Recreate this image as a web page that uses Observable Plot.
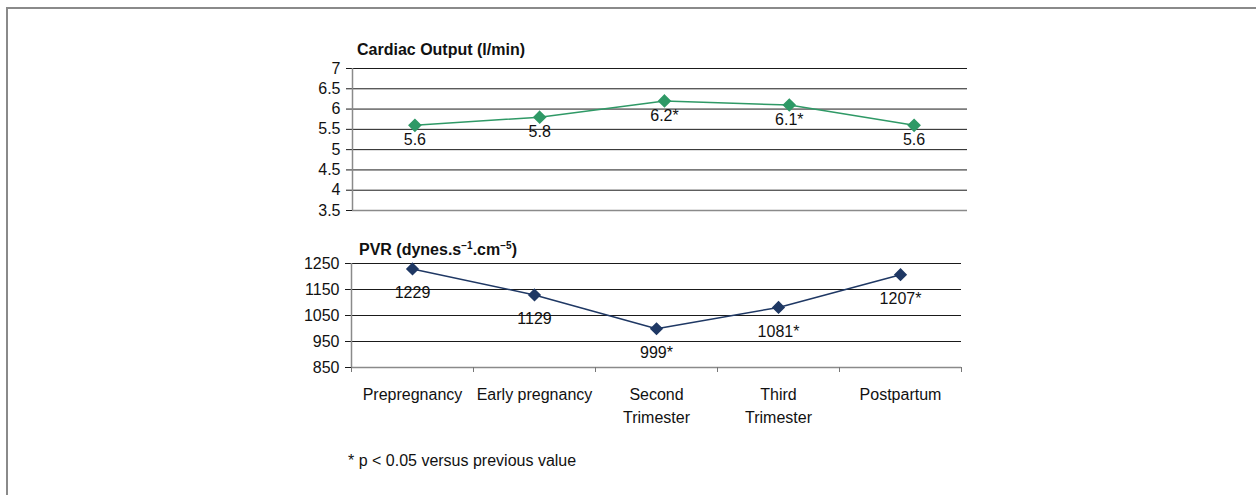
<!DOCTYPE html>
<html>
<head>
<meta charset="utf-8">
<script src="https://cdn.jsdelivr.net/npm/d3@7"></script>
<script src="https://cdn.jsdelivr.net/npm/@observablehq/plot@0.6"></script>
<style>
  body { margin: 0; background: #fff; }
  #wrap { position: relative; width: 1256px; height: 495px; overflow: hidden; font-family: "Liberation Sans", Arial, sans-serif; color: #111; }
  #frame { position: absolute; left: 6px; top: 7px; width: 1400px; height: 600px; border-top: 2px solid #8a8a8a; border-left: 2px solid #8a8a8a; }
  .title { position: absolute; font-weight: bold; font-size: 16px; white-space: nowrap; }
  .title sup { font-size: 10px; vertical-align: 6px; }
  .chart { position: absolute; left: 0; }
  #note { position: absolute; left: 348px; top: 452px; font-size: 16px; white-space: nowrap; }
</style>
</head>
<body>
<div id="wrap">
  <div id="frame"></div>
  <div class="title" style="left:357px; top:41px;">Cardiac Output (l/min)</div>
  <div class="chart" id="c1" style="top:58px;"></div>
  <div class="title" style="left:359px; top:240px;">PVR (dynes.s<sup>−1</sup>.cm<sup>−5</sup>)</div>
  <div class="chart" id="c2" style="top:253px;"></div>
  <div id="note">* p &lt; 0.05 versus previous value</div>
</div>
<script>
const categories = ["Prepregnancy", "Early pregnancy", "Second\nTrimester", "Third\nTrimester", "Postpartum"];
const cardiacOutput = [5.6, 5.8, 6.2, 6.1, 5.6];
const cardiacLabels = ["5.6", "5.8", "6.2*", "6.1*", "5.6"];
const pvr = [1229, 1129, 999, 1081, 1207];
const pvrLabels = ["1229", "1129", "999*", "1081*", "1207*"];
const coTicks = [3.5, 4, 4.5, 5, 5.5, 6, 6.5, 7];
const pvrTicks = [850, 950, 1050, 1150, 1250];

const green = "#2f9966";
const navy = "#1f3864";
const font = "'Liberation Sans', Arial, sans-serif";

const coData = categories.map((c, i) => ({i: i + 0.5, v: cardiacOutput[i], label: cardiacLabels[i]}));
const pvrData = categories.map((c, i) => ({i: i + 0.5, v: pvr[i], label: pvrLabels[i]}));

const c1 = Plot.plot({
  width: 1256,
  height: 162,
  marginTop: 10,
  marginBottom: 10,
  marginLeft: 352,
  marginRight: 289,
  style: {fontFamily: font, fontSize: "16px", color: "#111", background: "transparent", overflow: "visible"},
  x: {domain: [0, 5], range: [352, 976], axis: null},
  y: {domain: [3.5, 7], label: null},
  marks: [
    Plot.ruleY(coTicks.filter(t => t > 3.5), {stroke: "#1a1a1a", strokeWidth: 1}),
    Plot.ruleY([3.5], {stroke: "#8a8a8a", strokeWidth: 1.5}),
    Plot.axisY({ticks: coTicks, tickSize: 6, tickPadding: 6, tickFormat: d => String(d), stroke: "#1a1a1a", fontSize: 16, label: null}),
    Plot.ruleX([0], {stroke: "#8a8a8a", strokeWidth: 1.5}),
    Plot.line(coData, {x: "i", y: "v", stroke: green, strokeWidth: 1.5}),
    Plot.dot(coData, {x: "i", y: "v", symbol: "diamond2", r: 5.2, fill: green, stroke: green}),
    Plot.text(coData, {x: "i", y: "v", text: "label", dy: 15, fontSize: 16, fill: "#111"})
  ]
});
document.getElementById("c1").appendChild(c1);

const c2 = Plot.plot({
  width: 1256,
  height: 184,
  marginTop: 10,
  marginBottom: 70,
  marginLeft: 351,
  marginRight: 295,
  style: {fontFamily: font, fontSize: "16px", color: "#111", background: "transparent", overflow: "visible"},
  x: {domain: [0, 5], axis: null},
  y: {domain: [850, 1250], label: null},
  marks: [
    Plot.ruleY(pvrTicks.filter(t => t > 850), {stroke: "#1a1a1a", strokeWidth: 1}),
    Plot.ruleY([850], {stroke: "#8a8a8a", strokeWidth: 1.5}),
    Plot.axisY({ticks: pvrTicks, tickSize: 6, tickPadding: 6, tickFormat: d => String(d), stroke: "#1a1a1a", fontSize: 16, label: null}),
    Plot.ruleX([0], {stroke: "#8a8a8a", strokeWidth: 1.5}),
    Plot.axisX({ticks: [0, 1, 2, 3, 4, 5], tickSize: 5, tickFormat: () => "", stroke: "#777", label: null}),
    Plot.axisX({ticks: categories.map((c, i) => i + 0.5), tickSize: 0, tickPadding: 17, tickFormat: d => categories[Math.round(d - 0.5)], fontSize: 16, lineHeight: 1.4, label: null}),
    Plot.line(pvrData, {x: "i", y: "v", stroke: navy, strokeWidth: 1.5}),
    Plot.dot(pvrData, {x: "i", y: "v", symbol: "diamond2", r: 5, fill: navy, stroke: navy}),
    Plot.text(pvrData, {x: "i", y: "v", text: "label", dy: 24, fontSize: 16, fill: "#111"})
  ]
});
document.getElementById("c2").appendChild(c2);
</script>
</body>
</html>
